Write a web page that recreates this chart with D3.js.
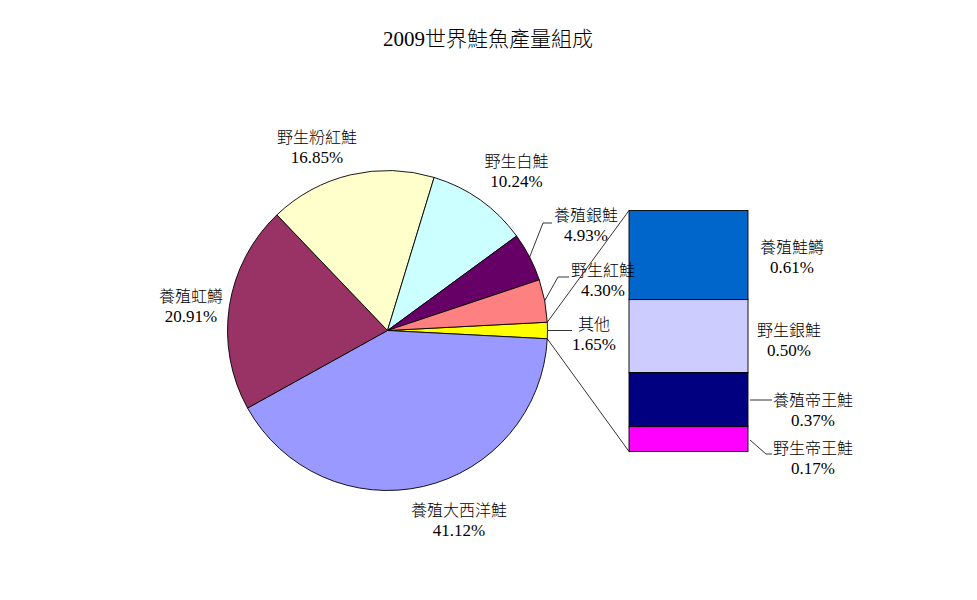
<!DOCTYPE html>
<html>
<head>
<meta charset="utf-8">
<script src="https://cdn.jsdelivr.net/npm/d3@7"></script>
<style>
  html, body { margin: 0; padding: 0; background: #ffffff; }
  svg { display: block; }
  text { font-family: 'Liberation Serif', 'Noto Sans CJK TC', serif; fill: #000; font-weight: 300; }
</style>
</head>
<body>
<svg id="chart" width="977" height="600"></svg>
<script>
// ---- data ----
const title = "2009世界鮭魚產量組成";
const pieCategories = ["其他", "養殖大西洋鮭", "養殖虹鱒", "野生粉紅鮭", "野生白鮭", "養殖銀鮭", "野生紅鮭"];
const pieValues = [1.65, 41.12, 20.91, 16.85, 10.24, 4.93, 4.30];
const barCategories = ["養殖鮭鱒", "野生銀鮭", "養殖帝王鮭", "野生帝王鮭"];
const barValues = [0.61, 0.50, 0.37, 0.17];

// ---- styles / layout (kept apart from data) ----
const pieColors = ["#FFFF00", "#9999FF", "#993366", "#FFFFCC", "#CCFFFF", "#660066", "#FF8080"];
const barColors = ["#0066CC", "#CCCCFF", "#000080", "#FF00FF"];
const cx = 387.5, cy = 330.5, R = 160;
const barX0 = 629, barX1 = 748, barY0 = 210.5, barY1 = 451.5;
// label centers (x, baseline of first line)
const pieLabelPos = [[594, 330], [459, 516], [191, 302], [317, 143], [516.5, 167], [586, 221], [603, 276]];
const pieLeaders = [[[572, 330.5]], null, null, null, null, [[543, 223], [552, 223]], [[558, 277], [569, 277]]];
const barLabelPos = [[792, 253], [789, 336], [813, 406], [813, 454]];
const barLeaders = [null, null, [[750, 400], [772, 400]], [[750, 440], [766, 454], [772, 454]]];
const lineGap = 20;

const svg = d3.select("#chart");

svg.append("text")
  .attr("x", 488).attr("y", 46)
  .attr("text-anchor", "middle")
  .style("font-size", "21px")
  .text(title);

// ---- pie ----
const total = d3.sum(pieValues);
const start = Math.PI / 2 - Math.PI * pieValues[0] / total;
const pie = d3.pie().sort(null).startAngle(start).endAngle(start + 2 * Math.PI);
const arcs = pie(pieValues);
const arc = d3.arc().innerRadius(0).outerRadius(R);

const g = svg.append("g").attr("transform", `translate(${cx},${cy})`);
g.selectAll("path.slice").data(arcs).enter().append("path")
  .attr("class", "slice")
  .attr("d", arc)
  .attr("fill", (d, i) => pieColors[i])
  .attr("stroke", "#000")
  .attr("stroke-width", 0.9)
  .attr("stroke-linejoin", "round");

const polar = (a, r) => [cx + r * Math.sin(a), cy - r * Math.cos(a)];

// ---- bar (stacked column) ----
const barTotal = d3.sum(barValues);
const y = d3.scaleLinear().domain([0, barTotal]).range([barY0, barY1]);
const cum = [];
barValues.reduce((acc, v, i) => { cum.push([acc, acc + v]); return acc + v; }, 0);

svg.selectAll("rect.seg").data(cum).enter().append("rect")
  .attr("class", "seg")
  .attr("x", barX0)
  .attr("width", barX1 - barX0)
  .attr("y", d => y(d[0]))
  .attr("height", d => y(d[1]) - y(d[0]))
  .attr("fill", (d, i) => barColors[i])
  .attr("stroke", "#000")
  .attr("stroke-width", 0.9);

// connector lines from "其他" slice to bar
const other = arcs[0];
const pTop = polar(other.startAngle, R);
const pBot = polar(other.endAngle, R);
svg.append("line").attr("x1", pTop[0]).attr("y1", pTop[1]).attr("x2", barX0).attr("y2", y(0))
  .attr("stroke", "#000").attr("stroke-width", 0.8);
svg.append("line").attr("x1", pBot[0]).attr("y1", pBot[1]).attr("x2", barX0).attr("y2", y(barTotal))
  .attr("stroke", "#000").attr("stroke-width", 0.8);

// ---- leader lines ----
const line = d3.line();
arcs.forEach((d, i) => {
  if (!pieLeaders[i]) return;
  const mid = (d.startAngle + d.endAngle) / 2;
  const pts = [polar(mid, R)].concat(pieLeaders[i]);
  svg.append("path").attr("d", line(pts)).attr("fill", "none")
    .attr("stroke", "#000").attr("stroke-width", 0.8);
});
barLeaders.forEach((pts) => {
  if (!pts) return;
  svg.append("path").attr("d", line(pts)).attr("fill", "none")
    .attr("stroke", "#000").attr("stroke-width", 0.8);
});

// ---- labels ----
function label(pos, name, value) {
  const t = svg.append("text")
    .attr("text-anchor", "middle")
    .style("font-size", "16px");
  t.append("tspan").attr("x", pos[0]).attr("y", pos[1]).text(name);
  t.append("tspan").attr("x", pos[0]).attr("y", pos[1] + lineGap)
    .style("font-size", "17px").text(value.toFixed(2) + "%");
}
pieCategories.forEach((c, i) => label(pieLabelPos[i], c, pieValues[i]));
barCategories.forEach((c, i) => label(barLabelPos[i], c, barValues[i]));
</script>
</body>
</html>
